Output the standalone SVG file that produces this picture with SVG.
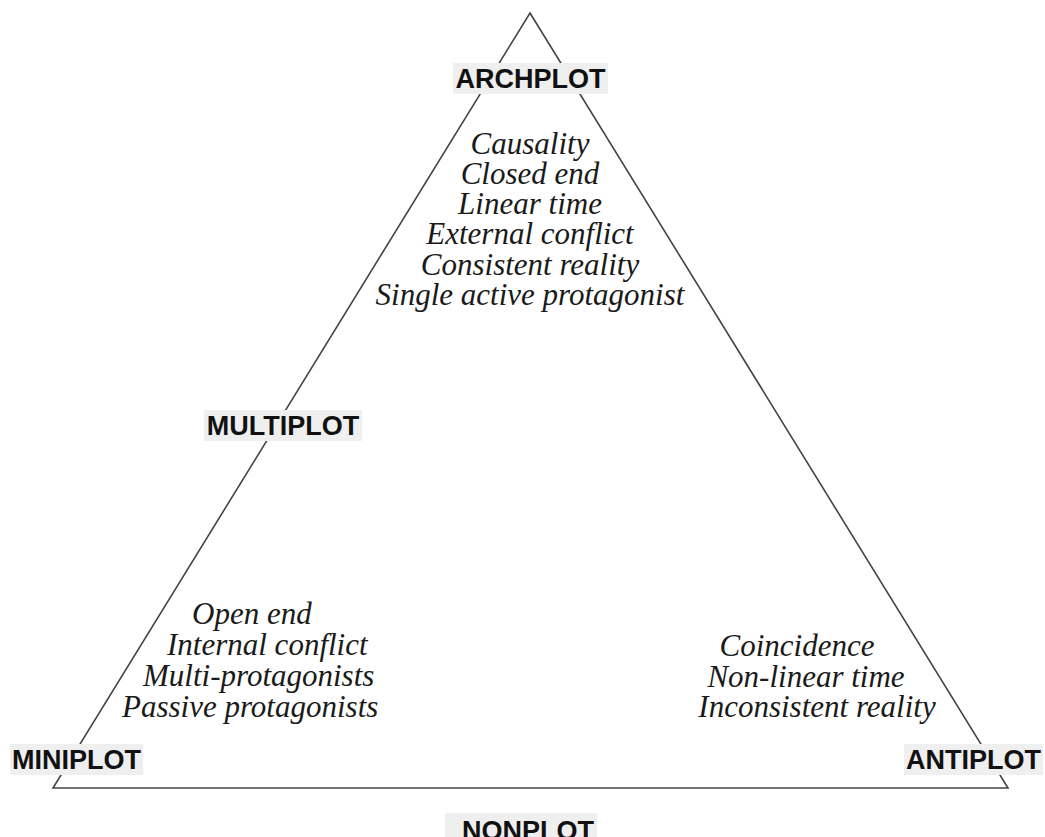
<svg xmlns="http://www.w3.org/2000/svg" width="1045" height="837" viewBox="0 0 1045 837">
<style>
.bg{fill:#ffffff}
.edge{fill:none;stroke:#444444;stroke-width:1.6;stroke-linejoin:miter}
.lbox{fill:#efefef}
.lbl{font-family:"Liberation Sans",Arial,sans-serif;font-weight:bold;font-size:27px;fill:#111111}
.it{font-family:"Liberation Serif","Times New Roman",serif;font-style:italic;font-size:31px;fill:#1a1a1a}
</style>
<rect class="bg" x="0" y="0" width="1045" height="837"/>
<g id="connectors">
<path class="edge" d="M530,13 L1008,788 L53,788 Z"/>
</g>
<g id="archplot">
<rect class="lbox" x="453" y="63" width="155" height="31"/>
<text class="lbl" x="530.5" y="88" text-anchor="middle">ARCHPLOT</text>
<text class="it" x="530" y="154" text-anchor="middle">Causality</text>
<text class="it" x="530" y="184" text-anchor="middle">Closed end</text>
<text class="it" x="530" y="214" text-anchor="middle">Linear time</text>
<text class="it" x="530" y="244" text-anchor="middle">External conflict</text>
<text class="it" x="530" y="275" text-anchor="middle">Consistent reality</text>
<text class="it" x="530" y="305" text-anchor="middle">Single active protagonist</text>
</g>
<g id="multiplot">
<rect class="lbox" x="204" y="410" width="158" height="31"/>
<text class="lbl" x="283" y="435" text-anchor="middle">MULTIPLOT</text>
</g>
<g id="miniplot">
<rect class="lbox" x="10" y="744" width="133" height="31"/>
<text class="lbl" x="76.5" y="769" text-anchor="middle">MINIPLOT</text>
<text class="it" x="192" y="624">Open end</text>
<text class="it" x="167" y="655">Internal conflict</text>
<text class="it" x="143" y="686">Multi-protagonists</text>
<text class="it" x="122" y="717">Passive protagonists</text>
</g>
<g id="antiplot">
<rect class="lbox" x="904" y="744" width="139" height="31"/>
<text class="lbl" x="973.5" y="769" text-anchor="middle">ANTIPLOT</text>
<text class="it" x="797" y="656" text-anchor="middle">Coincidence</text>
<text class="it" x="806" y="687" text-anchor="middle">Non-linear time</text>
<text class="it" x="817" y="717" text-anchor="middle">Inconsistent reality</text>
</g>
<g id="nonplot">
<rect class="lbox" x="445" y="813" width="152" height="31"/>
<text class="lbl" x="528" y="839.5" text-anchor="middle">NONPLOT</text>
</g>
</svg>
